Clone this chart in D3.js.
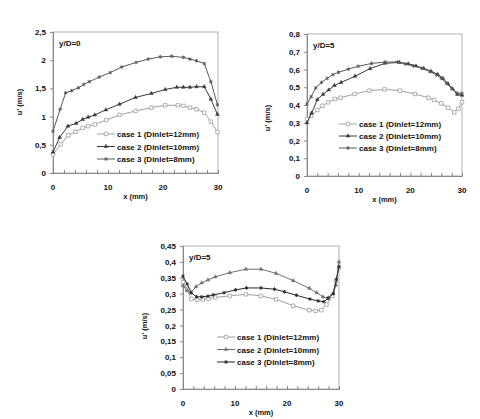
<!DOCTYPE html>
<html>
<head>
<meta charset="utf-8">
<script src="https://cdn.jsdelivr.net/npm/d3@7"></script>
<style>
  body { margin: 0; background: #fff; }
  svg text { font-family: "Liberation Sans", Arial, sans-serif; font-weight: bold; fill: #111; }
</style>
</head>
<body>
<div id="chart"></div>
<script>
// chart 1 : y/D=0
const c1x1 = [0, 1.4, 2.8, 4.1, 5.4, 6.4, 7.6, 9.7, 12.1, 15, 17.9, 20.4, 22.7, 23.7, 24.9, 26.1, 27.5, 28.7, 29.9];
const c1y1 = [0.33, 0.51, 0.67, 0.73, 0.8, 0.83, 0.86, 0.94, 1.03, 1.1, 1.16, 1.2, 1.2, 1.19, 1.16, 1.13, 1.07, 0.91, 0.73];
const c1x2 = [0, 1.2, 2.7, 4.2, 5.4, 6.4, 7.6, 9.6, 12.1, 15, 17.9, 20.4, 22.5, 23.7, 24.9, 26.1, 27.5, 28.7, 29.9];
const c1y2 = [0.37, 0.63, 0.83, 0.88, 0.95, 0.99, 1.03, 1.12, 1.22, 1.34, 1.41, 1.48, 1.52, 1.52, 1.52, 1.53, 1.53, 1.31, 1.04];
const c1x3 = [0, 1.3, 2.3, 3.4, 4.6, 5.6, 6.6, 8.4, 10.4, 12.5, 15.1, 17.3, 19.5, 21.6, 23.7, 24.9, 26.1, 27.5, 28.7, 29.9];
const c1y3 = [0.74, 1.13, 1.42, 1.46, 1.51, 1.57, 1.62, 1.7, 1.78, 1.88, 1.96, 2.02, 2.06, 2.07, 2.05, 2.02, 1.99, 1.94, 1.62, 1.21];

// chart 2 : y/D=5 (top right)
const c2x1 = [0, 0.8, 2, 3, 4.1, 5.4, 6.5, 9.2, 12.1, 15, 18, 20.9, 23.5, 24.6, 26, 27.3, 28.5, 29.3, 30];
const c2y1 = [0.32, 0.338, 0.372, 0.396, 0.415, 0.434, 0.441, 0.462, 0.481, 0.488, 0.481, 0.462, 0.441, 0.428, 0.409, 0.385, 0.358, 0.379, 0.416];
const c2x2 = [0, 0.9, 2, 3.1, 4.2, 5.3, 6.6, 9.3, 12.2, 15.1, 17.9, 19.6, 21.1, 22.6, 24, 25.3, 26.3, 27.3, 28.2, 29.1, 30];
const c2y2 = [0.3, 0.355, 0.43, 0.46, 0.485, 0.51, 0.527, 0.562, 0.605, 0.635, 0.64, 0.632, 0.62, 0.606, 0.59, 0.573, 0.55, 0.52, 0.49, 0.46, 0.455];
const c2x3 = [0, 0.8, 1.7, 2.8, 3.9, 5, 6.1, 8, 9.9, 12.5, 15.1, 17.5, 19, 20.6, 22.2, 23.8, 25.1, 26, 27, 28, 29, 30];
const c2y3 = [0.406, 0.447, 0.497, 0.527, 0.55, 0.571, 0.584, 0.602, 0.618, 0.634, 0.642, 0.642, 0.631, 0.62, 0.607, 0.588, 0.569, 0.55, 0.522, 0.494, 0.468, 0.465];

// chart 3 : y/D=5 (bottom)
const c3x1 = [0, 0.8, 1.6, 2.7, 3.8, 4.9, 6.2, 9, 12.1, 15, 17.9, 21.2, 24.3, 25.5, 26.6, 27.6, 28.7, 29.4, 30];
const c3y1 = [0.336, 0.314, 0.283, 0.281, 0.282, 0.284, 0.288, 0.293, 0.298, 0.293, 0.282, 0.262, 0.248, 0.246, 0.248, 0.266, 0.293, 0.34, 0.382];
const c3x2 = [0, 0.8, 1.5, 2.5, 3.6, 4.8, 6.2, 9, 12.1, 15, 17.9, 21.2, 24.3, 25.7, 26.9, 27.9, 28.9, 29.4, 30];
const c3y2 = [0.325, 0.31, 0.303, 0.322, 0.334, 0.343, 0.353, 0.366, 0.377, 0.377, 0.364, 0.341, 0.317, 0.303, 0.29, 0.287, 0.301, 0.327, 0.4];
const c3x3 = [0, 0.8, 1.6, 2.6, 3.6, 4.8, 5.8, 7.9, 10.1, 12.2, 15, 17.6, 19.5, 21.8, 24.4, 26, 27.1, 27.9, 28.9, 29.5, 30];
const c3y3 = [0.355, 0.33, 0.303, 0.29, 0.29, 0.292, 0.296, 0.303, 0.312, 0.318, 0.318, 0.314, 0.306, 0.295, 0.283, 0.277, 0.275, 0.285, 0.3, 0.345, 0.385];

const xTicks = [0, 10, 20, 30];
const xMinor = d3.range(0, 31, 2);
const yTicks1 = [0, 0.5, 1, 1.5, 2, 2.5];
const yTicks2 = [0, 0.1, 0.2, 0.3, 0.4, 0.5, 0.6, 0.7, 0.8];
const yTicks3 = [0, 0.05, 0.1, 0.15, 0.2, 0.25, 0.3, 0.35, 0.4, 0.45];

const caseNames = ["case 1 (Dinlet=12mm)", "case 2 (Dinlet=10mm)", "case 3 (Dinlet=8mm)"];
const titles = ["y/D=0", "y/D=5", "y/D=5"];

const svg = d3.select('#chart').append('svg')
    .attr('width', 480)
    .attr('height', 419);

const comma = d => String(+d.toFixed(2)).replace('.', ',');

function drawChart(opt) {
    const x = d3.scaleLinear().domain([0, 30]).range([opt.left, opt.right]);
    const y = d3.scaleLinear().domain([0, opt.yMax]).range([opt.bottom, opt.top]);
    const g = svg.append('g');

    // plot frame
    g.append('rect')
        .attr('x', opt.left).attr('y', opt.top)
        .attr('width', opt.right - opt.left).attr('height', opt.bottom - opt.top)
        .attr('fill', 'none').attr('stroke', '#b0b0b0').attr('stroke-width', 1);

    // y axis
    const ya = g.append('g')
        .attr('transform', `translate(${opt.left},0)`)
        .call(d3.axisLeft(y).tickValues(opt.yTicks).tickFormat(comma).tickSize(3).tickPadding(4));
    ya.select('.domain').attr('stroke', '#888');
    ya.selectAll('.tick line').attr('stroke', '#888');
    ya.selectAll('text').style('font-size', '8px').attr('fill', '#111');

    // x axis, minor ticks pointing up
    const xa = g.append('g')
        .attr('transform', `translate(0,${opt.bottom})`)
        .call(d3.axisBottom(x).tickValues(xMinor).tickSize(-3).tickFormat(''));
    xa.select('.domain').attr('stroke', '#888');
    xa.selectAll('.tick line').attr('stroke', '#888');

    g.selectAll('.xlab').data(xTicks).join('text')
        .attr('x', d => x(d)).attr('y', opt.bottom + 17)
        .attr('text-anchor', 'middle')
        .style('font-size', '8px')
        .text(d => d);

    g.append('text')
        .attr('x', (opt.left + opt.right) / 2).attr('y', opt.bottom + 26)
        .attr('text-anchor', 'middle').style('font-size', '7.5px')
        .text('x (mm)');

    g.append('text')
        .attr('transform', `translate(${opt.yLabelX},${opt.yLabelY}) rotate(-90)`)
        .attr('text-anchor', 'middle').style('font-size', '7.5px')
        .text("u' (m/s)");

    g.append('text')
        .attr('x', opt.left + 6).attr('y', opt.top + 14)
        .style('font-size', '8px')
        .text(opt.title);

    const line = d3.line().x(d => x(d[0])).y(d => y(d[1]));

    opt.series.forEach((s, i) => {
        const pts = s.xs.map((v, k) => [v, s.ys[k]]);
        g.append('path').datum(pts)
            .attr('d', line)
            .attr('fill', 'none').attr('stroke', s.color).attr('stroke-width', 1);
        g.selectAll(null).data(pts).join('path')
            .attr('transform', d => `translate(${x(d[0])},${y(d[1])})`)
            .call(markerStyle, s);

        // legend entry
        const ly = opt.legY + i * opt.legStep;
        g.append('line')
            .attr('x1', opt.legX).attr('x2', opt.legX + 18)
            .attr('y1', ly).attr('y2', ly)
            .attr('stroke', s.color).attr('stroke-width', 1);
        g.append('path')
            .attr('transform', `translate(${opt.legX + 9},${ly})`)
            .call(markerStyle, s);
        g.append('text')
            .attr('x', opt.legX + 20).attr('y', ly + 3)
            .style('font-size', '8px')
            .text(caseNames[i]);
    });
}

function markerStyle(sel, s) {
    if (s.marker === 'square') {
        sel.attr('d', d3.symbol().type(d3.symbolSquare).size(12))
            .attr('fill', '#fff').attr('stroke', s.color).attr('stroke-width', 0.8);
    } else if (s.marker === 'triangle') {
        sel.attr('d', d3.symbol().type(d3.symbolTriangle).size(6))
            .attr('fill', s.color).attr('stroke', s.color).attr('stroke-width', 0.5);
    } else {
        sel.attr('d', d3.symbol().type(d3.symbolAsterisk).size(9))
            .attr('fill', 'none').attr('stroke', s.color).attr('stroke-width', 1);
    }
}

drawChart({
    left: 53, right: 218, top: 32, bottom: 173, yMax: 2.5, yTicks: yTicks1,
    yLabelX: 22, yLabelY: 102, title: titles[0], legX: 97, legY: 134, legStep: 12.5,
    series: [
        { xs: c1x1, ys: c1y1, color: '#a0a0a0', marker: 'square' },
        { xs: c1x2, ys: c1y2, color: '#3a3a3a', marker: 'triangle' },
        { xs: c1x3, ys: c1y3, color: '#5a5a5a', marker: 'star' }
    ]
});

drawChart({
    left: 307, right: 462, top: 34, bottom: 176, yMax: 0.8, yTicks: yTicks2,
    yLabelX: 270, yLabelY: 118, title: titles[1], legX: 339, legY: 124, legStep: 12,
    series: [
        { xs: c2x1, ys: c2y1, color: '#a0a0a0', marker: 'square' },
        { xs: c2x2, ys: c2y2, color: '#3a3a3a', marker: 'triangle' },
        { xs: c2x3, ys: c2y3, color: '#5a5a5a', marker: 'star' }
    ]
});

drawChart({
    left: 183, right: 339, top: 246, bottom: 389, yMax: 0.45, yTicks: yTicks3,
    yLabelX: 147, yLabelY: 326, title: titles[2], legX: 217, legY: 337, legStep: 12.5,
    series: [
        { xs: c3x1, ys: c3y1, color: '#a0a0a0', marker: 'square' },
        { xs: c3x2, ys: c3y2, color: '#707070', marker: 'triangle' },
        { xs: c3x3, ys: c3y3, color: '#2a2a2a', marker: 'star' }
    ]
});
</script>
</body>
</html>
